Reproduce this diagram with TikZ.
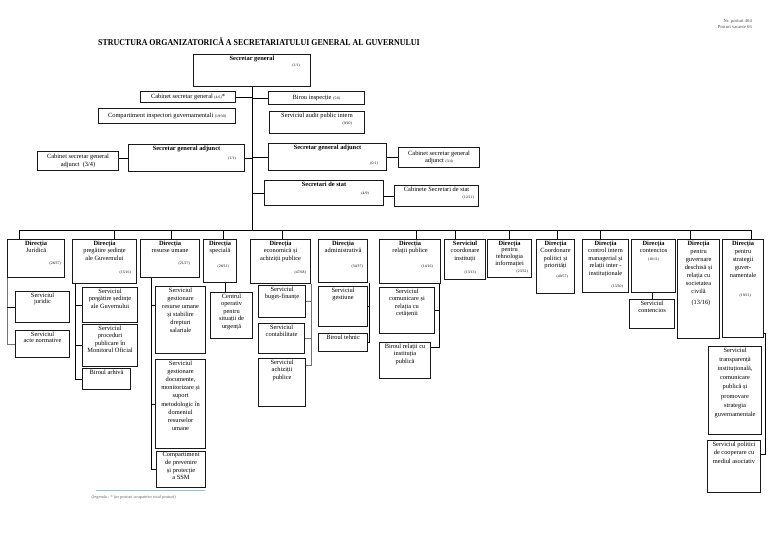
\documentclass[tikz,border=0pt]{standalone}
\usepackage{fontspec}
\setmainfont{Liberation Serif}
\usepackage{graphicx}
\newcommand{\tinynum}{\fontsize{3.8}{4}\selectfont}

\begin{document}
\begin{tikzpicture}[
    x=1pt, y=-1pt,
    box/.style={draw=black!90, line width=1.1pt, anchor=north west, inner sep=0pt, align=center, font=\fontsize{6.4}{7.6}\selectfont},
    hd/.style={anchor=north, align=center, inner sep=1.5pt, font=\fontsize{6.4}{7.6}\selectfont},
    num/.style={anchor=east, inner sep=0pt, font=\tinynum},
    conn/.style={line width=0.9pt},
    spine/.style={line width=0.9pt, black!55}
]
\useasboundingbox (0,0) rectangle (768,543);

% header
\node[anchor=north east, align=right, inner sep=0pt, text=black!70, font=\fontsize{4.6}{5.8}\selectfont] (posts) at (752,19) {Nr. posturi 464\\Posturi vacante 66};
\node[anchor=west, inner sep=0pt, font=\bfseries\fontsize{9}{10}\selectfont] (title) at (98,42) {\scalebox{0.88}[1]{STRUCTURA ORGANIZATORICĂ A SECRETARIATULUI GENERAL AL GUVERNULUI}};

% top level
\node[box, minimum width=117, minimum height=32, label={[hd]north:{\textbf{Secretar general}}}] (sg) at (193,54) {};
\node[num] (sg-n) at (300,66) {(1/1)};
\node[box, minimum width=95, minimum height=11] (cabsg) at (140,91) {Cabinet secretar general {\tinynum(4/6)}*};
\node[box, minimum width=96, minimum height=13] (birou) at (268,91) {Birou inspecție {\tinynum(5/6)}};
\node[box, minimum width=137, minimum height=15] (comp) at (98,108) {Compartiment inspectori guvernamentali {\tinynum(19/30)}};
\node[box, minimum width=95, minimum height=22, label={[hd]north:{Serviciul audit public intern}}] (audit) at (269,111) {};
\node[num] (audit-n) at (352,124) {(9/10)};

\node[box, minimum width=81, minimum height=19] (cabsgal) at (37,151) {Cabinet secretar general\\adjunct\ \ (3/4)};
\node[box, minimum width=116, minimum height=27, label={[hd]north:{\textbf{Secretar general adjunct}}}] (sgal) at (128,144) {};
\node[num] (sgal-n) at (236,159) {(1/1)};
\node[box, minimum width=118, minimum height=27, label={[hd]north:{\textbf{Secretar general adjunct}}}] (sgar) at (268,143) {};
\node[num] (sgar-n) at (378,164) {(0/1)};
\node[box, minimum width=81, minimum height=20] (cabsgar) at (398,147) {Cabinet secretar general\\adjunct {\tinynum(3/4)}};
\node[box, minimum width=119, minimum height=25, label={[hd]north:{\textbf{Secretari de stat}}}] (ss) at (264,180) {};
\node[num] (ss-n) at (369,194) {(4/9)};
\node[box, minimum width=84, minimum height=21, label={[hd]north:{Cabinete Secretari de stat}}] (cabss) at (394,185) {};
\node[num] (cabss-n) at (474,198) {(12/21)};

% directions
\node[box, minimum width=57, minimum height=38, label={[hd]north:{\textbf{Direcția}\\Juridică}}] (jur) at (7,239) {};
\node[num] (jur-n) at (61,264) {(28/37)};
\node[box, minimum width=64, minimum height=44, label={[hd]north:{\textbf{Direcția}\\pregătire ședințe\\ale Guvernului}}] (preg) at (72,239) {};
\node[num] (preg-n) at (131,273) {(15/16)};
\node[box, minimum width=59, minimum height=38, label={[hd]north:{\textbf{Direcția}\\resurse umane}}] (ru) at (140,239) {};
\node[num] (ru-n) at (190,264) {(21/27)};
\node[box, minimum width=33, minimum height=43, label={[hd]north:{\textbf{Direcția}\\specială}}] (spec) at (203,239) {};
\node[num] (spec-n) at (229,267) {(28/31)};
\node[box, minimum width=60, minimum height=44, label={[hd]north:{\textbf{Direcția}\\economică și\\achiziții publice}}] (eco) at (250,239) {};
\node[num] (eco-n) at (306,273) {(47/68)};
\node[box, minimum width=49, minimum height=43, label={[hd]north:{\textbf{Direcția}\\administrativă}}] (adm) at (318,239) {};
\node[num] (adm-n) at (363,267) {(34/37)};
\node[box, minimum width=61, minimum height=44, label={[hd]north:{\textbf{Direcția}\\relații publice}}] (rp) at (379,239) {};
\node[num] (rp-n) at (433,267) {(14/16)};
\node[box, minimum width=41, minimum height=40, label={[hd]north:{\textbf{Serviciul}\\coordonare\\instituții}}] (scoord) at (444,239) {};
\node[num] (scoord-n) at (476,273) {(13/13)};
\node[box, minimum width=44, minimum height=38, label={[hd, font=\fontsize{6.4}{6.7}\selectfont]north:{\textbf{Direcția}\\pentru\\tehnologia\\informației}}] (ti) at (487,239) {};
\node[num] (ti-n) at (528,271.5) {(23/32)};
\node[box, minimum width=38, minimum height=54, label={[hd]north:{\textbf{Direcția}\\Coordonare\\politici și\\priorități}}] (cpp) at (536,239) {};
\node[num] (cpp-n) at (568,277) {(40/57)};
\node[box, minimum width=46, minimum height=53, label={[hd]north:{\textbf{Direcția}\\control intern\\managerial și\\relații inter -\\instituționale}}] (ci) at (582,239) {};
\node[num] (ci-n) at (623,287) {(13/30)};
\node[box, minimum width=44, minimum height=53, label={[hd]north:{\textbf{Direcția}\\contencios\\{\tinynum(10/11)}}}] (cont) at (631,239) {};
\node[box, minimum width=42, minimum height=99, label={[hd, font=\fontsize{6.4}{8.1}\selectfont]north:{\textbf{Direcția}\\pentru\\guvernare\\deschisă și\\relația cu\\societatea\\civilă\\[3pt]\ \ \ (13/16)}}] (gd) at (677,239) {};
\node[box, minimum width=41, minimum height=98, label={[hd, font=\fontsize{6.4}{8.1}\selectfont]north:{\textbf{Direcția}\\pentru\\strategii\\guver-\\namentale}}] (strat) at (722,239) {};
\node[num] (strat-n) at (751,296) {(19/21)};

% services
\node[box, minimum width=54, minimum height=31, label={[hd, font=\fontsize{6.4}{6.4}\selectfont]north:{Serviciul\\juridic}}] (sj) at (15,291) {};
\node[box, minimum width=54, minimum height=27, label={[hd, font=\fontsize{6.4}{6.4}\selectfont]north:{Serviciul\\acte normative}}] (san) at (15,330) {};
\node[box, minimum width=55, minimum height=35, label={[hd]north:{Serviciul\\pregătire ședințe\\ale Guvernului}}] (sps) at (82,287) {};
\node[box, minimum width=55, minimum height=42, label={[hd]north:{Serviciul\\proceduri\\publicare în\\Monitorul Oficial}}] (spp) at (82,324) {};
\node[box, minimum width=48, minimum height=21, label={[hd]north:{Biroul arhivă}}] (ba) at (82,368) {};
\node[box, minimum width=50, minimum height=67, label={[hd, font=\fontsize{6.4}{8.1}\selectfont]north:{Serviciul\\gestionare\\resurse umane\\și stabilire\\drepturi\\salariale}}] (sgru) at (155,286) {};
\node[box, minimum width=50, minimum height=89, label={[hd, font=\fontsize{6.4}{8.2}\selectfont]north:{Serviciul\\gestionare\\documente,\\monitorizare și\\suport\\metodologic în\\domeniul\\resurselor\\umane}}] (sgd) at (155,359) {};
\node[box, minimum width=49, minimum height=36, label={[hd]north:{Compartiment\\de prevenire\\și protecție\\a SSM}}] (cpsm) at (156,451) {};
\node[box, minimum width=42, minimum height=46, label={[hd]north:{Centrul\\operativ\\pentru\\situații de\\urgență}}] (cosu) at (210,292) {};
\node[box, minimum width=47, minimum height=32, label={[hd]north:{Serviciul\\buget-finanțe}}] (sbf) at (258,285) {};
\node[box, minimum width=46, minimum height=30, label={[hd]north:{Serviciul\\contabilitate}}] (sc) at (258,323) {};
\node[box, minimum width=47, minimum height=48, label={[hd]north:{Serviciul\\achiziții\\publice}}] (sap) at (258,358) {};
\node[box, minimum width=49, minimum height=40, label={[hd]north:{Serviciul\\gestiune}}] (sgest) at (318,286) {};
\node[box, minimum width=49, minimum height=18, label={[hd]north:{Biroul tehnic}}] (bt) at (318,333) {};
\node[box, minimum width=55, minimum height=46, label={[hd]north:{Serviciul\\comunicare și\\relația cu\\cetățenii}}] (scr) at (379,287) {};
\node[box, minimum width=51, minimum height=36, label={[hd]north:{Biroul relații cu\\instituția\\publică}}] (brip) at (379,342) {};
\node[box, minimum width=45, minimum height=29, label={[hd]north:{Serviciul\\contencios}}] (scont) at (629,299) {};
\node[box, minimum width=53, minimum height=88, label={[hd, font=\fontsize{6.4}{9.2}\selectfont]north:{Serviciul\\transparență\\instituțională,\\comunicare\\publică și\\promovare\\strategia\\guvernamentale}}] (stcp) at (708,346) {};
\node[box, minimum width=53, minimum height=52, label={[hd, font=\fontsize{6.4}{8.5}\selectfont]north:{Serviciul politici\\de cooperare cu\\mediul asociativ}}] (spc) at (707,440) {};

% legend
\coordinate (legl) at (96,490.5);
\coordinate (legr) at (205,490.5);
\draw[line width=1.2pt, blue!25!cyan!40!gray!60] (legl) -- (legr);
\node[anchor=east, inner sep=0pt, text=black!60, font=\fontsize{4.4}{5}\selectfont] (legend) at (176,497) {(legenda : * (nr posturi ocupate/nr total posturi)};

% upper links
\coordinate (busl) at (19,230);
\coordinate (busr) at (750.5,230);
\draw[conn] (sg.south) -- (sg.south |- busl);
\draw[conn] (cabsg.east) -- (cabsg.east -| sg.south);
\draw[conn] (birou.west) -- (birou.west -| sg.south);
\draw[conn] (sgal.east) -- (sgal.east -| sg.south);
\draw[conn] (sgal.west) -- (sgal.west -| cabsgal.east);
\draw[conn] (sgar.west) -- (sgar.west -| sg.south);
\draw[conn] (sgar.east) -- (sgar.east -| cabsgar.west);
\draw[conn] (ss.west) -- (ss.west -| sg.south);
\draw[conn] (cabss.west) -- (cabss.west -| ss.east);
\draw[conn] (busl) -- (busr);
\foreach \n/\s in {jur/-16.5, preg/10, ru/1.5, spec/3, eco/2, rp/6.5, scoord/-10, ti/0, cpp/1.5, ci/-5, gd/-8, strat/8}
    \draw[conn] ([xshift=\s]\n.north) -- ([xshift=\s]\n.north |- busl);

% lower links
\draw[spine] (jur.south west) |- (san.west);
\draw[conn] (sj.west) -- (sj.west -| jur.south west);
\coordinate (pregsp) at ([xshift=3.5]preg.south west);
\draw[conn] (pregsp) |- (ba.west);
\draw[conn] (sps.west) -- (sps.west -| pregsp);
\draw[conn] (spp.west) -- (spp.west -| pregsp);
\coordinate (rusp) at ([xshift=11.5]ru.south west);
\draw[conn] (rusp) |- (cpsm.west);
\draw[conn] ([yshift=15]sgru.west) -- ([yshift=15]sgru.west -| rusp);
\draw[conn] (sgd.west) -- (sgd.west -| rusp);
\draw[conn] ([xshift=5]spec.south) -- ([xshift=5]spec.south |- cosu.north);
\draw[spine] (eco.south east) |- ([yshift=17]sap.east);
\draw[spine] (sbf.east) -- (sbf.east -| eco.south east);
\draw[spine] (sc.east) -- (sc.east -| eco.south east);
\coordinate (admsp) at ([xshift=1.5]adm.south east);
\draw[conn] (admsp) |- (bt.east);
\draw[conn] (sgest.east) -- (sgest.east -| admsp);
\coordinate (rpsp) at ([xshift=-2]rp.south east);
\draw[conn] (rpsp) |- ([yshift=13]brip.east);
\draw[conn] (scr.east) -- (scr.east -| rpsp);
\draw[conn] (scont.north) -- (scont.north |- cont.south);
\coordinate (stsp) at ([xshift=1.5,yshift=4.5]strat.south east);
\draw[conn] ([yshift=4.5]strat.south east) -- (stsp) |- ([yshift=12]spc.east);
\end{tikzpicture}
\end{document}
